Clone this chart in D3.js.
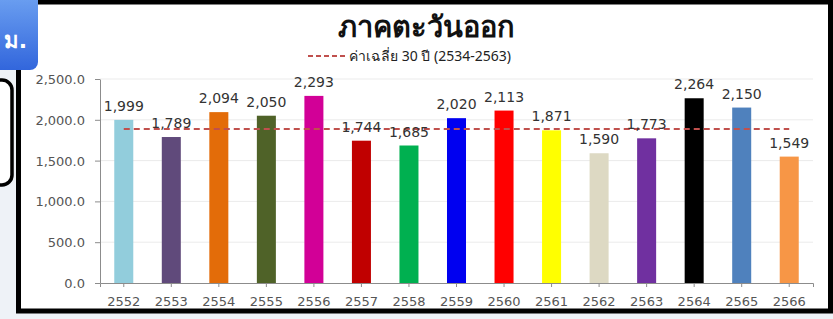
<!DOCTYPE html>
<html>
<head>
<meta charset="utf-8">
<script src="https://cdn.jsdelivr.net/npm/d3@7"></script>
<style>
  body { margin: 0; background: #eef2f7; }
  svg { display: block; }
</style>
</head>
<body>
<div class="chart"></div>
<script>
// data
var years = ["2552","2553","2554","2555","2556","2557","2558","2559","2560","2561","2562","2563","2564","2565","2566"];
var rainfall = [1999, 1789, 2094, 2050, 2293, 1744, 1685, 2020, 2113, 1871, 1590, 1773, 2264, 2150, 1549];
var barColors = ["#92cddc","#604a7b","#e36c09","#4f6228","#d20097","#c00000","#00b050","#0000f0","#ff0000","#ffff00","#ddd9c3","#7030a0","#000000","#4f81bd","#f79646"];
var avg30 = 1887;
var yTicks = [0, 500, 1000, 1500, 2000, 2500];
var titleText = "ภาคตะวันออก";
var legendText = "ค่าเฉลี่ย 30 ปี (2534-2563)";

var width = 833, height = 319;
var plotLeft = 100, plotRight = 813, plotTop = 79, plotBottom = 283;

var svg = d3.select(".chart").append("svg")
    .attr("width", width)
    .attr("height", height);

// background outside the frame
svg.append("rect").attr("width", width).attr("height", height).attr("fill", "#eef2f7");

// chart box with thick black border
svg.append("rect")
    .attr("x", 18.5).attr("y", 2)
    .attr("width", 812).attr("height", 309)
    .attr("fill", "#fff")
    .attr("stroke", "#000").attr("stroke-width", 5);

// bits of the slide on the left
svg.append("rect")
    .attr("x", -20).attr("y", 80).attr("width", 32).attr("height", 105).attr("rx", 10)
    .attr("fill", "#fff").attr("stroke", "#000").attr("stroke-width", 3.5);

var grad = svg.append("defs").append("linearGradient")
    .attr("id", "btn").attr("x1", 0).attr("y1", 0).attr("x2", 0).attr("y2", 1);
grad.append("stop").attr("offset", "0%").attr("stop-color", "#6fa3f2");
grad.append("stop").attr("offset", "100%").attr("stop-color", "#3266dc");

svg.append("rect")
    .attr("x", -10).attr("y", -8).attr("width", 48).attr("height", 78).attr("rx", 8)
    .attr("fill", "url(#btn)");
svg.append("text")
    .attr("x", 27).attr("y", 48)
    .attr("text-anchor", "end")
    .attr("font-family", "Tahoma, 'DejaVu Sans', sans-serif")
    .attr("font-size", 22).attr("font-weight", "bold")
    .attr("fill", "#fff")
    .text("ม.");

var x = d3.scaleBand()
    .domain(years)
    .range([plotLeft, plotRight])
    .paddingInner(0.6)
    .paddingOuter(0.3);

var y = d3.scaleLinear()
    .domain([0, 2500])
    .range([plotBottom, plotTop]);

// gridlines
svg.append("g")
    .selectAll("line")
    .data(yTicks.slice(1))
    .enter().append("line")
    .attr("x1", plotLeft).attr("x2", plotRight)
    .attr("y1", function(d) { return y(d); })
    .attr("y2", function(d) { return y(d); })
    .attr("stroke", "#ebebeb");

// axes
var yAxis = svg.append("g")
    .attr("transform", "translate(" + plotLeft + ",0)")
    .call(d3.axisLeft(y).tickValues(yTicks).tickSize(5).tickSizeOuter(0)
        .tickFormat(function(d) { return d3.format(",.1f")(d); }));

var xAxis = svg.append("g")
    .attr("transform", "translate(0," + plotBottom + ")")
    .call(d3.axisBottom(x).tickSize(4).tickSizeOuter(4));

[yAxis, xAxis].forEach(function(g) {
    g.selectAll("path, line").attr("stroke", "#8c8c8c");
    g.selectAll("text")
        .attr("font-family", "'DejaVu Sans', Verdana, sans-serif")
        .attr("font-size", 13)
        .attr("fill", "#555");
});
yAxis.selectAll("text").attr("x", -15).attr("dy", "0.35em");
xAxis.selectAll("text").attr("y", 0).attr("dy", 0)
    .attr("transform", "translate(0,23)");

// bars
svg.append("g")
    .selectAll("rect")
    .data(rainfall)
    .enter().append("rect")
    .attr("x", function(d, i) { return x(years[i]); })
    .attr("y", function(d) { return y(d); })
    .attr("width", x.bandwidth())
    .attr("height", function(d) { return y(0) - y(d); })
    .attr("fill", function(d, i) { return barColors[i]; });

// 30 year average
svg.append("line")
    .attr("x1", x(years[0]) + x.bandwidth() / 2)
    .attr("x2", x(years[years.length - 1]) + x.bandwidth() / 2)
    .attr("y1", y(avg30)).attr("y2", y(avg30))
    .attr("stroke", "#c0504d").attr("stroke-width", 2)
    .attr("stroke-dasharray", "6,4");

// value labels
svg.append("g")
    .selectAll("text")
    .data(rainfall)
    .enter().append("text")
    .attr("x", function(d, i) { return x(years[i]) + x.bandwidth() / 2; })
    .attr("y", function(d) { return y(d) - 9; })
    .attr("text-anchor", "middle")
    .attr("font-family", "'DejaVu Sans', Verdana, sans-serif")
    .attr("font-size", 14)
    .attr("fill", "#333")
    .text(function(d) { return d3.format(",")(d); });

// title + legend
svg.append("text")
    .attr("x", 426).attr("y", 37)
    .attr("text-anchor", "middle")
    .attr("font-family", "Tahoma, 'Noto Sans', sans-serif")
    .attr("font-size", 29).attr("font-weight", "bold")
    .attr("fill", "#111")
    .text(titleText);

svg.append("line")
    .attr("x1", 308).attr("x2", 346)
    .attr("y1", 56).attr("y2", 56)
    .attr("stroke", "#c0504d").attr("stroke-width", 2)
    .attr("stroke-dasharray", "5,3");

svg.append("text")
    .attr("x", 349).attr("y", 61)
    .attr("font-family", "Tahoma, 'Noto Sans', sans-serif")
    .attr("font-size", 14)
    .attr("fill", "#222")
    .text(legendText);
</script>
</body>
</html>
